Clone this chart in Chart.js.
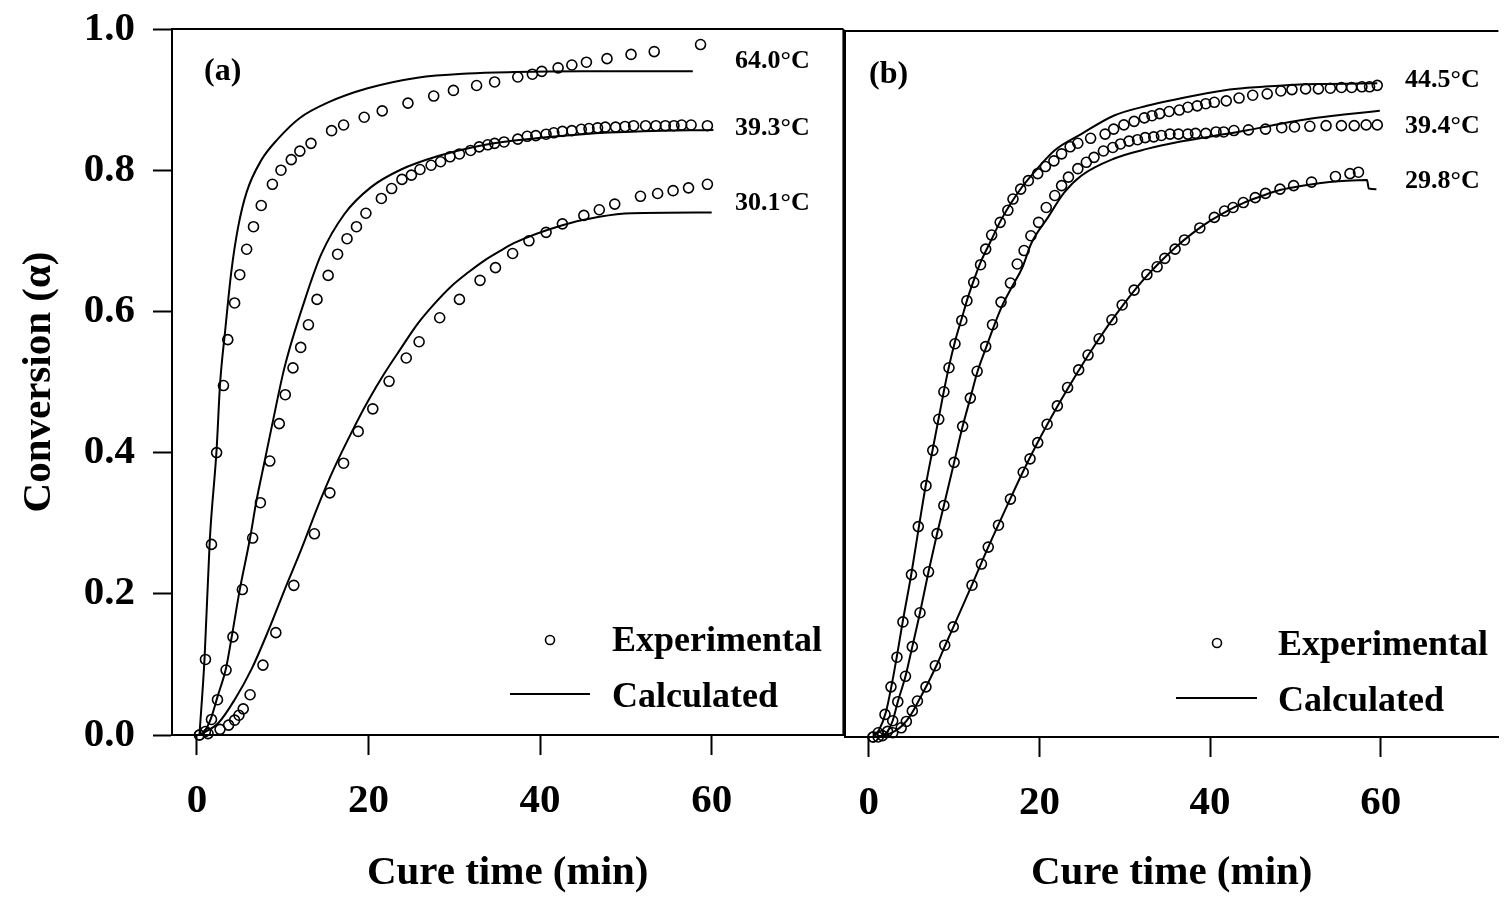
<!DOCTYPE html>
<html>
<head>
<meta charset="utf-8">
<script src="https://cdn.jsdelivr.net/npm/chart.js@4.4.0/dist/chart.umd.min.js"></script>
<style>
  body { margin: 0; background: #fff; width: 1505px; height: 900px; overflow: hidden; position: relative; }
  #wrapA { position: absolute; left: 0; top: 0; width: 850px; height: 900px; }
  #wrapB { position: absolute; left: 830px; top: 0; width: 675px; height: 900px; }
</style>
</head>
<body>
<div id="wrapA"><canvas id="chartA"></canvas></div>
<div id="wrapB"><canvas id="chartB"></canvas></div>
<script>
// tick values
const timeTicks = [0, 20, 40, 60];
const convTicks = [0, 0.2, 0.4, 0.6, 0.8, 1.0];

// curve names
const namesA = ['64.0°C', '39.3°C', '30.1°C'];
const namesB = ['44.5°C', '39.4°C', '29.8°C'];

// panel (a) - [time (min), conversion]
const exp640 = [[0.3,0],[1.0,0.107],[1.7,0.27],[2.3,0.40],[3.1,0.495],[3.6,0.56],[4.4,0.612],[5.0,0.652],[5.8,0.688],[6.6,0.72],[7.5,0.75],[8.8,0.78],[9.8,0.80],[11.0,0.815],[12.0,0.827],[13.3,0.838],[15.7,0.856],[17.1,0.864],[19.5,0.875],[21.6,0.884],[24.6,0.895],[27.6,0.905],[29.9,0.913],[32.6,0.92],[34.7,0.925],[37.4,0.932],[39.1,0.936],[40.2,0.94],[42.1,0.945],[43.7,0.949],[45.4,0.953],[47.8,0.958],[50.6,0.964],[53.3,0.968],[58.7,0.978]];
const calc640 = [[0.3,0],[0.9,0.11],[1.5,0.275],[2.3,0.405],[2.7,0.497],[3.3,0.573],[4.0,0.655],[4.8,0.719],[5.8,0.769],[7.5,0.814],[9.5,0.845],[12.0,0.874],[15.3,0.896],[19.9,0.916],[25.7,0.931],[31.6,0.937],[37.0,0.939],[45,0.94],[57.8,0.94]];
const exp393 = [[1.0,0.005],[1.7,0.022],[2.4,0.05],[3.4,0.092],[4.2,0.139],[5.3,0.206],[6.5,0.279],[7.4,0.329],[8.5,0.388],[9.6,0.441],[10.3,0.482],[11.2,0.52],[12.1,0.549],[13.0,0.581],[14.0,0.617],[15.3,0.651],[16.4,0.681],[17.5,0.703],[18.6,0.72],[19.7,0.739],[21.5,0.76],[22.7,0.774],[23.9,0.787],[25.0,0.793],[26.0,0.801],[27.3,0.807],[28.4,0.812],[29.5,0.819],[30.6,0.823],[31.9,0.828],[32.9,0.833],[33.9,0.836],[34.7,0.838],[35.8,0.84],[37.4,0.844],[38.5,0.848],[39.5,0.849],[40.7,0.851],[41.6,0.853],[42.6,0.855],[43.7,0.856],[44.8,0.858],[45.7,0.859],[46.7,0.86],[47.6,0.861],[48.8,0.861],[49.9,0.862],[50.9,0.863],[52.3,0.863],[53.5,0.863],[54.6,0.863],[55.6,0.863],[56.5,0.864],[57.6,0.864],[59.5,0.863]];
const calc393 = [[0.7,0],[1.6,0.022],[2.4,0.054],[3.4,0.095],[4.1,0.142],[5.0,0.206],[6.2,0.279],[6.9,0.329],[7.9,0.388],[8.8,0.441],[10.2,0.52],[12.6,0.617],[14.5,0.681],[17.2,0.738],[20.3,0.776],[23.8,0.801],[28.1,0.82],[32.3,0.833],[37.0,0.842],[45,0.851],[52,0.855],[60.2,0.857]];
const exp301 = [[0.3,0],[1.3,0.002],[2.7,0.008],[3.7,0.014],[4.4,0.021],[4.9,0.028],[5.4,0.037],[6.2,0.057],[7.7,0.099],[9.2,0.145],[11.3,0.212],[13.7,0.285],[15.5,0.343],[17.1,0.385],[18.8,0.43],[20.5,0.462],[22.4,0.501],[24.4,0.534],[25.9,0.557],[28.3,0.591],[30.6,0.617],[33.0,0.644],[34.8,0.662],[36.8,0.682],[38.7,0.70],[40.7,0.712],[42.6,0.724],[45.1,0.736],[46.9,0.744],[48.7,0.752],[51.7,0.763],[53.7,0.767],[55.5,0.771],[57.3,0.775],[59.5,0.78]];
const calc301 = [[0.3,0],[2.5,0.017],[4.4,0.05],[6.4,0.094],[8.3,0.147],[10.2,0.205],[12.2,0.264],[14.1,0.324],[16.0,0.378],[18.0,0.428],[19.9,0.472],[21.9,0.513],[23.8,0.548],[25.7,0.582],[27.7,0.611],[29.6,0.635],[31.6,0.655],[33.5,0.672],[35.4,0.686],[37.0,0.697],[42.6,0.722],[46.9,0.734],[50.7,0.739],[60.0,0.74]];

// panel (b)
const exp445 = [[0.5,0],[1.1,0.006],[1.9,0.032],[2.6,0.071],[3.3,0.113],[4.0,0.163],[5.0,0.23],[5.8,0.298],[6.7,0.356],[7.5,0.406],[8.2,0.45],[8.8,0.489],[9.4,0.523],[10.1,0.557],[10.9,0.59],[11.5,0.618],[12.3,0.644],[13.1,0.669],[13.7,0.691],[14.4,0.711],[15.4,0.729],[16.3,0.746],[16.9,0.762],[17.8,0.776],[18.7,0.788],[19.8,0.798],[20.7,0.808],[21.7,0.816],[22.6,0.826],[23.6,0.836],[24.5,0.841],[26.0,0.848],[27.7,0.854],[28.7,0.861],[29.9,0.867],[31.1,0.872],[32.3,0.877],[33.2,0.88],[34.1,0.883],[35.2,0.886],[36.4,0.888],[37.4,0.892],[38.5,0.894],[39.5,0.897],[40.5,0.899],[41.9,0.901],[43.4,0.905],[45.0,0.909],[46.7,0.911],[48.3,0.915],[49.6,0.917],[51.2,0.918],[52.7,0.918],[54.1,0.919],[55.4,0.92],[56.6,0.92],[57.8,0.921],[58.7,0.921],[59.6,0.923]];
const calc445 = [[0.5,0],[1.2,0.01],[2.0,0.035],[2.7,0.075],[3.3,0.115],[4.0,0.165],[5.0,0.232],[5.9,0.3],[6.7,0.358],[7.5,0.408],[8.2,0.452],[8.8,0.49],[9.4,0.525],[10.1,0.56],[10.9,0.593],[11.6,0.622],[12.4,0.65],[13.2,0.675],[14.2,0.70],[15.4,0.73],[16.6,0.755],[17.9,0.778],[19.4,0.80],[21.8,0.831],[24.9,0.854],[28.7,0.88],[32.6,0.894],[38.4,0.909],[42.3,0.917],[46.2,0.921],[50,0.924],[54,0.925],[59.6,0.926]];
const exp394 = [[1.1,0],[2.2,0.008],[2.8,0.023],[3.4,0.05],[4.3,0.086],[5.1,0.128],[6.0,0.176],[7.0,0.234],[8.0,0.288],[8.8,0.328],[10.0,0.389],[11.0,0.44],[11.9,0.48],[12.7,0.518],[13.7,0.553],[14.5,0.584],[15.5,0.616],[16.6,0.643],[17.4,0.67],[18.2,0.689],[19.0,0.71],[19.9,0.729],[20.8,0.75],[21.8,0.767],[22.6,0.781],[23.4,0.793],[24.5,0.805],[25.5,0.814],[26.4,0.821],[27.5,0.83],[28.6,0.835],[29.5,0.84],[30.5,0.844],[31.5,0.846],[32.4,0.849],[33.4,0.85],[34.3,0.852],[35.3,0.854],[36.3,0.854],[37.4,0.854],[38.3,0.855],[39.5,0.855],[40.7,0.857],[41.6,0.857],[42.8,0.859],[44.5,0.86],[46.5,0.861],[48.4,0.863],[49.9,0.864],[51.7,0.865],[53.6,0.866],[55.4,0.866],[56.9,0.866],[58.3,0.867],[59.6,0.867]];
const calc394 = [[1.1,0],[2.2,0.008],[2.8,0.023],[3.4,0.05],[4.3,0.086],[5.1,0.128],[6.0,0.176],[7.0,0.234],[8.0,0.288],[8.8,0.328],[10.0,0.389],[11.0,0.44],[11.9,0.48],[12.7,0.516],[13.7,0.55],[14.6,0.58],[15.6,0.61],[16.8,0.638],[18.0,0.665],[19.0,0.698],[21.0,0.736],[22.9,0.771],[24.9,0.795],[28.7,0.819],[32.6,0.833],[36.4,0.843],[40.3,0.851],[44.2,0.859],[48.0,0.868],[51.9,0.876],[56.0,0.882],[59.9,0.887]];
const exp298 = [[0.5,0],[1.6,0.002],[2.8,0.006],[3.8,0.013],[4.4,0.022],[5.1,0.037],[5.7,0.051],[6.7,0.071],[7.8,0.101],[8.9,0.13],[9.9,0.156],[12.1,0.215],[13.2,0.245],[14.0,0.269],[15.2,0.3],[16.6,0.337],[18.1,0.375],[18.9,0.394],[19.8,0.417],[20.9,0.443],[22.1,0.469],[23.3,0.495],[24.6,0.52],[25.7,0.541],[27.0,0.564],[28.5,0.591],[29.7,0.612],[31.1,0.633],[32.6,0.655],[33.8,0.666],[34.7,0.678],[35.9,0.691],[37.0,0.704],[38.8,0.721],[40.5,0.736],[41.7,0.745],[42.7,0.75],[43.9,0.757],[45.3,0.764],[46.5,0.77],[48.2,0.776],[49.8,0.781],[51.9,0.786],[54.7,0.794],[56.4,0.798],[57.4,0.8]];
const calc298 = [[0.5,0],[2,0.003],[3,0.008],[4,0.017],[5,0.033],[6,0.055],[7,0.078],[8,0.103],[9,0.131],[10,0.158],[12,0.213],[14,0.269],[16,0.322],[18,0.374],[20,0.422],[22,0.466],[24,0.507],[26,0.546],[28,0.582],[30,0.615],[32,0.645],[34,0.671],[36,0.694],[38,0.714],[40,0.731],[42,0.745],[44,0.757],[46,0.766],[48,0.774],[50,0.779],[52,0.783],[54,0.786],[56,0.788],[58.4,0.789],[58.6,0.777],[59.5,0.776]];

const serif = '"Liberation Serif", "Times New Roman", serif';
Chart.defaults.font.family = serif;
Chart.defaults.font.weight = 'bold';
Chart.defaults.color = '#000';

function toXY(pairs) {
    return pairs.map(p => ({ x: p[0], y: p[1] }));
}

function expSet(pairs) {
    return {
        data: toXY(pairs), showLine: false,
        pointRadius: 5, pointBorderWidth: 1.6,
        pointBorderColor: '#000', pointBackgroundColor: 'rgba(0,0,0,0)',
        clip: 10
    };
}

function calcSet(pairs) {
    return {
        data: toXY(pairs), showLine: true, pointRadius: 0,
        borderColor: '#000', borderWidth: 2,
        cubicInterpolationMode: 'monotone', fill: false
    };
}

// top / right edges of the box
const framePlugin = {
    id: 'frame',
    afterDraw(chart, args, opts) {
        const { ctx, chartArea: a } = chart;
        ctx.save();
        ctx.strokeStyle = '#000';
        ctx.lineWidth = 2;
        ctx.beginPath();
        ctx.moveTo(a.left, a.top);
        ctx.lineTo(a.right, a.top);
        if (opts.right) {
            ctx.moveTo(a.right, a.top);
            ctx.lineTo(a.right, a.bottom);
        }
        ctx.stroke();
        ctx.restore();
    }
};

// panel tag, curve names and the legend
const notesPlugin = {
    id: 'notes',
    afterDraw(chart, args, o) {
        const ctx = chart.ctx;
        ctx.save();
        ctx.fillStyle = '#000';
        ctx.strokeStyle = '#000';
        ctx.textBaseline = 'alphabetic';
        ctx.textAlign = 'left';

        ctx.font = 'bold 32px ' + serif;
        ctx.fillText(o.tag, o.tagX, o.tagY);

        ctx.font = 'bold 26px ' + serif;
        o.names.forEach((n, i) => ctx.fillText(n, o.nameX, o.nameY[i]));

        // legend
        ctx.font = 'bold 36px ' + serif;
        ctx.lineWidth = 1.6;
        ctx.beginPath();
        ctx.arc(o.markX, o.markY, 4.5, 0, Math.PI * 2);
        ctx.stroke();
        ctx.fillText('Experimental', o.textX, o.row1);
        ctx.lineWidth = 2;
        ctx.beginPath();
        ctx.moveTo(o.lineX0, o.lineY);
        ctx.lineTo(o.lineX1, o.lineY);
        ctx.stroke();
        ctx.fillText('Calculated', o.textX, o.row2);
        ctx.restore();
    }
};

function xScale(min, max, height) {
    return {
        type: 'linear', position: 'bottom', min, max,
        afterBuildTicks: s => { s.ticks = timeTicks.map(v => ({ value: v })); },
        afterFit: s => { s.height = height; s.paddingLeft = 0; s.paddingRight = 0; },
        ticks: { font: { size: 41 }, padding: 22, callback: v => v },
        grid: { drawOnChartArea: false, tickLength: 20, tickWidth: 2, tickColor: '#000' },
        border: { display: true, color: '#000', width: 2 },
        title: { display: true, text: 'Cure time (min)', font: { size: 41 }, padding: { top: 0, bottom: 2 } }
    };
}

function makeChart(id, datasets, xs, ys, pad, frame, notes) {
    return new Chart(document.getElementById(id), {
        type: 'scatter',
        data: { datasets },
        options: {
            responsive: true,
            maintainAspectRatio: false,
            animation: false,
            layout: { padding: pad },
            scales: { x: xs, y: ys },
            plugins: {
                legend: { display: false },
                tooltip: { enabled: false },
                frame, notes
            }
        },
        plugins: [framePlugin, notesPlugin]
    });
}

// panel (a)
makeChart('chartA',
    [calcSet(calc640), calcSet(calc393), calcSet(calc301),
     expSet(exp640), expSet(exp393), expSet(exp301)],
    xScale(-2.9, 75.35, 165),
    {
        type: 'linear', min: 0, max: 1,
        afterBuildTicks: s => { s.ticks = convTicks.map(v => ({ value: v })); },
        afterFit: s => { s.width = 172; s.paddingTop = 0; s.paddingBottom = 0; },
        ticks: { font: { size: 41 }, padding: 18, callback: v => v.toFixed(1) },
        grid: { drawOnChartArea: false, tickLength: 19, tickWidth: 2, tickColor: '#000' },
        border: { display: true, color: '#000', width: 2 },
        title: { display: true, text: 'Conversion (α)', font: { size: 41 }, padding: { top: 15, bottom: 0 } }
    },
    { top: 29, right: 5, left: 0, bottom: 0 },
    { right: true },
    {
        tag: '(a)', tagX: 204, tagY: 80,
        names: namesA, nameX: 735, nameY: [68, 135, 210],
        markX: 550, markY: 640, textX: 612, row1: 651, row2: 707,
        lineX0: 510, lineX1: 590, lineY: 694
    }
);

// panel (b)
makeChart('chartB',
    [calcSet(calc445), calcSet(calc394), calcSet(calc298),
     expSet(exp445), expSet(exp394), expSet(exp298)],
    xScale(-2.79, 73.8, 163),
    {
        type: 'linear', min: 0, max: 1,
        afterFit: s => { s.width = 15; s.paddingTop = 0; s.paddingBottom = 0; },
        ticks: { display: false },
        grid: { display: false },
        border: { display: true, color: '#000', width: 2 },
        title: { display: false }
    },
    { top: 31, right: 0, left: 0, bottom: 0 },
    { right: false },
    {
        tag: '(b)', tagX: 39, tagY: 83,
        names: namesB, nameX: 575, nameY: [87, 133, 188],
        markX: 387, markY: 643, textX: 448, row1: 655, row2: 711,
        lineX0: 346, lineX1: 427, lineY: 698
    }
);
</script>
</body>
</html>
